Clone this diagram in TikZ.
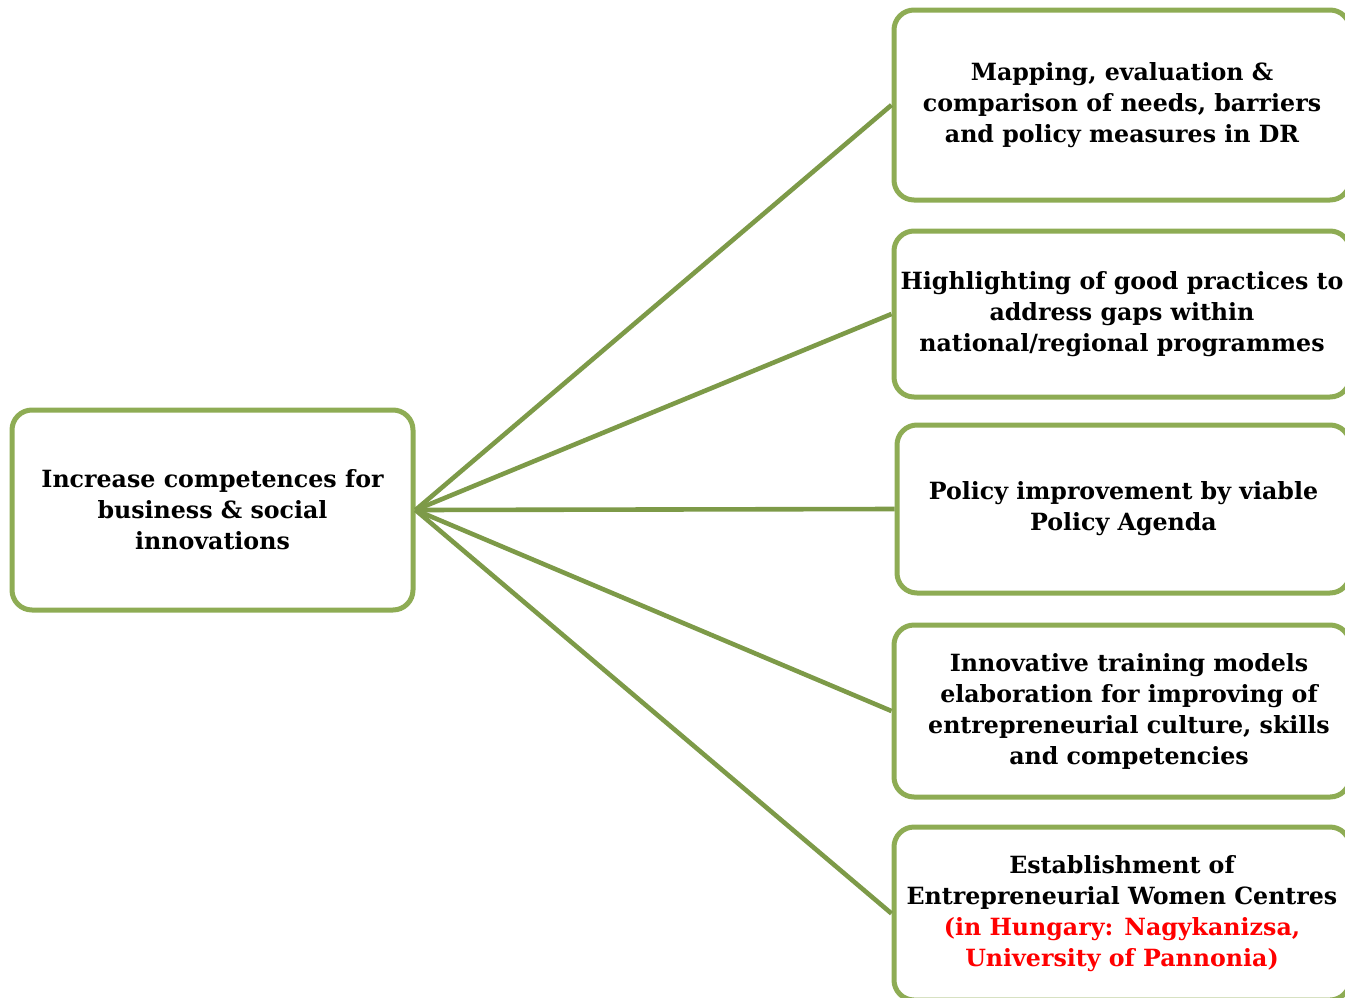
\documentclass[tikz,border=0pt]{standalone}
\usepackage{fontspec}
\setmainfont{DejaVu Serif}
\definecolor{boxgreen}{HTML}{8EAC54}
\definecolor{linkgreen}{HTML}{7D9A48}
\definecolor{notered}{HTML}{FF0000}
\begin{document}
\begin{tikzpicture}[x=1pt,y=-1pt,
  goalbox/.style={draw=boxgreen, line width=5pt, rounded corners=20pt,
    fill=white, align=center, inner sep=0pt,
    font=\bfseries\fontsize{23.7}{31}\selectfont},
  link/.style={draw=linkgreen, line width=4.6pt}]
\useasboundingbox (0,0) rectangle (1345,997);
\clip (0,0) rectangle (1345,997);

% central goal
\node[goalbox, minimum width=401pt, minimum height=200pt] (goal) at (212.5,510)
  {Increase competences for\\business \& social\\innovations};

% outcome boxes on the right
\node[goalbox, minimum width=456pt, minimum height=190pt] (map) at (1122,105)
  {Mapping, evaluation \&\\comparison of needs, barriers\\and policy measures in DR};
\node[goalbox, minimum width=456pt, minimum height=166pt] (good) at (1122,314)
  {Highlighting of good practices to\\address gaps within\\national/regional programmes};
\node[goalbox, minimum width=453pt, minimum height=168pt] (policy) at (1123.5,509)
  {Policy improvement by viable\\Policy Agenda};
\node[goalbox, minimum width=456pt, minimum height=172pt] (train) at (1122,711)
  {\hspace*{14pt}Innovative training models\\\hspace*{14pt}elaboration for improving of\\\hspace*{14pt}entrepreneurial culture, skills\\\hspace*{14pt}and competencies};
\node[goalbox, minimum width=456pt, minimum height=173pt] (centre) at (1122,913.5)
  {Establishment of\\Entrepreneurial Women Centres\\\textcolor{notered}{(in Hungary: Nagykanizsa,}\\\textcolor{notered}{University of Pannonia)}};

% connectors fanning out from the goal
\foreach \t in {map,good,policy,train,centre}
  \draw[link] (goal.east) -- (\t.west);
\end{tikzpicture}
\end{document}
